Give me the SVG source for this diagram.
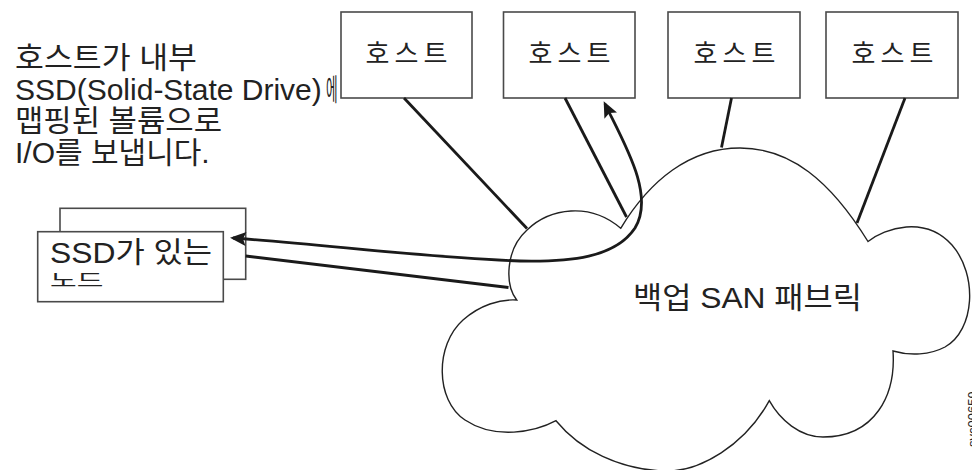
<svg xmlns="http://www.w3.org/2000/svg" width="972" height="470" viewBox="0 0 972 470">
<style>
text{font-family:"Liberation Sans","Noto Sans CJK KR",Arial,sans-serif;fill:#222}
.box{fill:#fff;stroke:#4a4a4a;stroke-width:1.6}
.host{font-size:26px;letter-spacing:5px;text-anchor:middle}
.lbl{font-size:30px}
.conn{fill:none;stroke:#1a1a1a;stroke-width:2.8}
.cloud{fill:#fff;stroke:#222;stroke-width:1.4}
</style>
<defs>
<marker id="ah" markerUnits="userSpaceOnUse" markerWidth="20" markerHeight="16" refX="13" refY="7" orient="auto-start-reverse" overflow="visible">
<path d="M0,0 L16,7 L0,14 L3,7 z" fill="#1a1a1a"/>
</marker>
</defs>

<g id="caption">
<text class="lbl" x="15" y="68" textLength="182" lengthAdjust="spacingAndGlyphs">호스트가 내부</text>
<text class="lbl" x="15" y="100">SSD(Solid-State Drive)</text>
<text class="lbl" transform="translate(326,100) scale(0.42,1)">에</text>
<text class="lbl" x="15" y="131" textLength="207" lengthAdjust="spacingAndGlyphs">맵핑된 볼륨으로</text>
<text class="lbl" x="15" y="163">I/O를 보냅니다.</text>
</g>

<g id="cloud">
<path class="cloud" d="M620.7,228.3 C650,180 690,148 740,148 C790,148 830,180 868,241.5 C885,228 925,215 952,245 C978,275 975,330 945,347 C930,355 910,356 893,351 C896,395 875,437 823,437 C800,437 780,420 769.3,400.7 C745,445 700,472 665,471 C620,470 580,450 556,420.7 C535,432 495,440 465,420 C435,400 435,345 463,320 C480,305 500,299 516.7,300 C505,285 505,250 527,230 C550,208 590,202 620.7,228.3 Z"/>
<text x="633" y="308" font-size="30" textLength="229" lengthAdjust="spacingAndGlyphs">백업 SAN 패브릭</text>
</g>

<g id="host1">
<rect class="box" x="341" y="12" width="131" height="86"/>
<text class="host" x="409" y="63">호스트</text>
</g>
<g id="host2">
<rect class="box" x="503.5" y="12" width="131.5" height="86"/>
<text class="host" x="572" y="63">호스트</text>
</g>
<g id="host3">
<rect class="box" x="668" y="12" width="132" height="86"/>
<text class="host" x="737" y="63">호스트</text>
</g>
<g id="host4">
<rect class="box" x="826" y="12" width="132" height="86"/>
<text class="host" x="895" y="63">호스트</text>
</g>

<g id="ssd-node">
<rect class="box" x="60" y="208.3" width="185.7" height="71"/>
<rect class="box" x="37.7" y="231.7" width="185.6" height="70"/>
<text x="50" y="263" font-size="29" textLength="162" lengthAdjust="spacingAndGlyphs">SSD가 있는</text>
<text transform="translate(50,287) scale(1,0.62)" font-size="29">노드</text>
</g>

<g id="connectors">
<line class="conn" x1="404" y1="98" x2="527" y2="228.5"/>
<line class="conn" x1="565" y1="98" x2="626.5" y2="217"/>
<line class="conn" x1="731.5" y1="98" x2="721.5" y2="147.5"/>
<line class="conn" x1="905" y1="98" x2="857" y2="223"/>
<line class="conn" x1="245.7" y1="256" x2="508.5" y2="287.5"/>
<path class="conn" marker-start="url(#ah)" marker-end="url(#ah)" d="M233,238 C330,245 430,258 520,261 C570,262 615,258 635,228 C655,195 625,145 605,104"/>
</g>

<text transform="translate(977,447) rotate(-90)" font-size="13">svc00659</text>
</svg>
